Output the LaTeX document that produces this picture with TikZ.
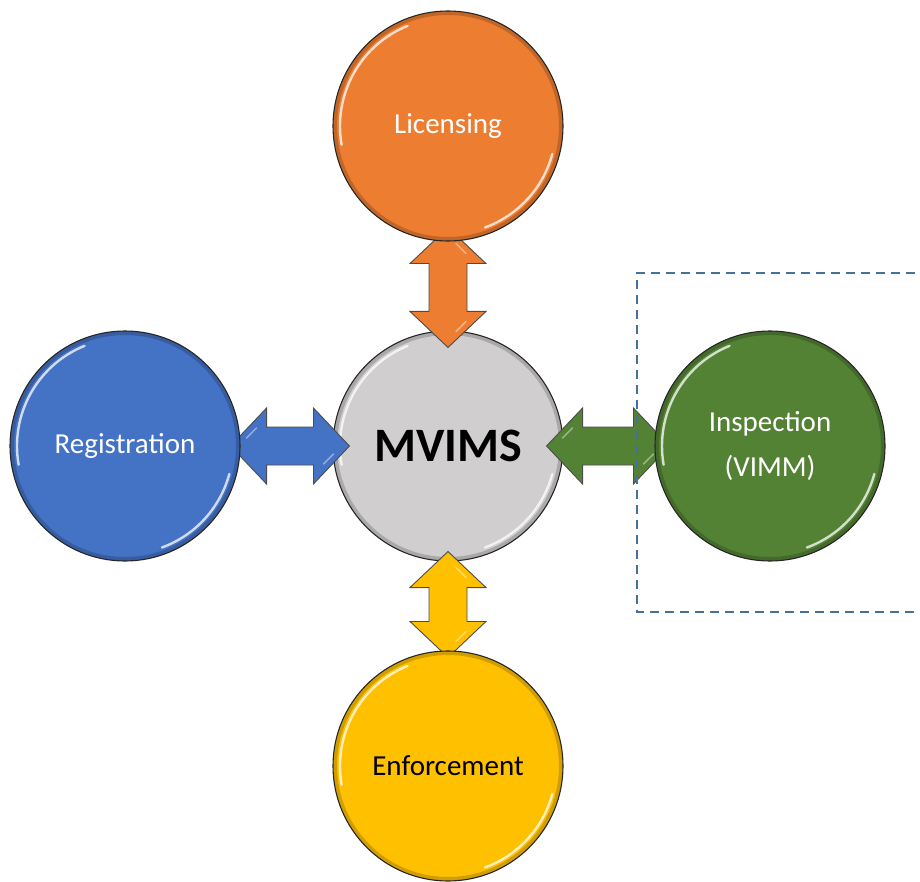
\documentclass[tikz,border=0pt]{standalone}
\usepackage{fontspec}
\setmainfont{Carlito}
\usetikzlibrary{calc}
\definecolor{licC}{HTML}{ED7D31}
\definecolor{regC}{HTML}{4472C4}
\definecolor{insC}{HTML}{548235}
\definecolor{enfC}{HTML}{FFC000}
\definecolor{hubC}{HTML}{D0CECE}
\definecolor{frameC}{HTML}{41719C}
\pgfdeclarelayer{back}
\pgfdeclarelayer{mid}
\pgfsetlayers{back,mid,main}

% bevel highlights inside each bubble
\newcommand\bubblegloss{%
  \draw[black, opacity=.18, line width=6pt]
    (path picture bounding box.center) circle[radius=114];
  \draw[y=1pt, white, opacity=.75, line width=2.4pt, line cap=round]
    (path picture bounding box.center) ++(112:108) arc[start angle=112, end angle=190, radius=108];
  \draw[y=1pt, white, opacity=.75, line width=2.4pt, line cap=round]
    (path picture bounding box.center) ++(-15:108) arc[start angle=-15, end angle=-70, radius=108];
}

% horizontal double arrow: left tip #2, right tip #3
\newcommand\hdbl[3]{%
  \filldraw[link, fill=#1] (#2) -- ++(36,-38) -- ++(0,19) -- ($(#3)+(-36,-19)$)
    -- ++(0,-19) -- (#3) -- ++(-36,38) -- ++(0,-19) -- ($(#2)+(36,19)$)
    -- ++(0,19) -- cycle;
  \draw[white, opacity=.4, line width=1.6pt, line cap=round]
    ($(#2)+(16,-8)$) -- ($(#2)+(26,-18)$)
    ($(#3)+(-16,8)$) -- ($(#3)+(-26,18)$);
}
% vertical double arrow: top tip #2, bottom tip #3
\newcommand\vdbl[3]{%
  \filldraw[link, fill=#1] (#2) -- ++(-38,36) -- ++(19,0) -- ($(#3)+(-19,-36)$)
    -- ++(-19,0) -- (#3) -- ++(38,-36) -- ++(-19,0) -- ($(#2)+(19,36)$)
    -- ++(19,0) -- cycle;
  \draw[white, opacity=.4, line width=1.6pt, line cap=round]
    ($(#2)+(8,16)$) -- ($(#2)+(18,26)$)
    ($(#3)+(8,-16)$) -- ($(#3)+(18,-26)$);
}

\tikzset{
  bubble/.style={circle, minimum size=230pt, inner sep=0pt, draw=black!85,
    line width=1.1pt, align=center, text=white,
    font=\fontsize{29}{45}\selectfont, path picture={\bubblegloss}},
  link/.style={draw=black!70, line width=0.9pt, line join=miter},
  frame/.style={draw=frameC, line width=1.4pt, dash pattern=on 9pt off 6pt}
}

\begin{document}
\begin{tikzpicture}[x=1pt, y=-1pt]
\useasboundingbox (0,0) rectangle (920,882);

% hub
\begin{pgfonlayer}{back}
  \node[bubble, fill=hubC, text=black, font=\fontsize{48}{52}\selectfont\bfseries]
    (hub) at (448,446) {MVIMS};
\end{pgfonlayer}

% satellites
\node[bubble, fill=licC] (lic) at (448,126) {Licensing};
\node[bubble, fill=regC] (reg) at (125,446) {Registration};
\node[bubble, fill=insC] (ins) at (770,446) {Inspection\\(VIMM)};
\node[bubble, fill=enfC, text=black] (enf) at (448,766) {Enforcement};

% links between hub and satellites
\coordinate (b1) at ($(reg.east)+(-10,0)$);
\coordinate (b2) at ($(hub.west)+(17,0)$);
\coordinate (g1) at ($(hub.east)+(-17,0)$);
\coordinate (g2) at ($(ins.west)+(15,0)$);
\coordinate (o1) at ($(lic.south)+(0,-14)$);
\coordinate (o2) at ($(hub.north)+(0,17)$);
\coordinate (y1) at ($(hub.south)+(0,-10)$);
\coordinate (y2) at ($(enf.north)+(0,7)$);
\begin{pgfonlayer}{mid}
  \hdbl{regC}{b1}{b2}
  \hdbl{insC}{g1}{g2}
  \vdbl{licC}{o1}{o2}
  \vdbl{enfC}{y1}{y2}
\end{pgfonlayer}

% dashed frame around the inspection module
\draw[frame] (930,273) -- (637,273) -- (637,612) -- (930,612);
\end{tikzpicture}
\end{document}
